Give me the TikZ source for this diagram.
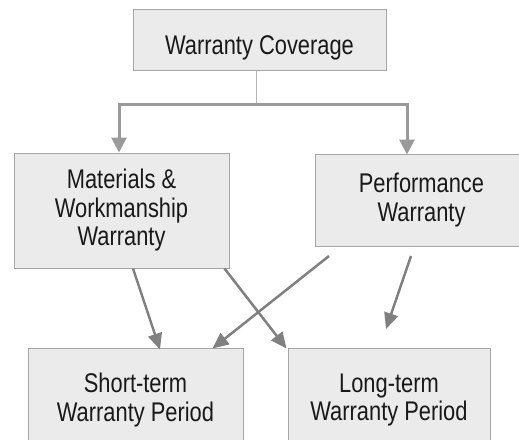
\documentclass[tikz,border=0pt]{standalone}
\usepackage{fontspec}
\usepackage{tikz}
\usetikzlibrary{arrows.meta,calc}
\newfontfamily\boxfont[FakeStretch=0.81]{Liberation Sans}

\definecolor{boxfill}{HTML}{EBEBEB}
\definecolor{boxline}{HTML}{A6A6A6}
\definecolor{teeline}{HTML}{9A9A9A}
\definecolor{arrline}{HTML}{808080}
\definecolor{stemline}{HTML}{B5B5B5}

\tikzset{
  box/.style={draw=boxline, fill=boxfill, line width=1pt, align=center, inner sep=0pt,
    text=black!90, font=\boxfont\fontsize{27pt}{28.5pt}\selectfont},
  tee/.style={draw=teeline, line width=3pt, -{Triangle[length=15pt, width=15pt]}},
  link/.style={draw=arrline, line width=2.5pt, -{Triangle[length=16pt, width=14pt]}},
}

\begin{document}
\begin{tikzpicture}[x=1pt, y=-1pt]
    % 画布范围
    \useasboundingbox (0,0) rectangle (519,439);
    \clip (0,0) rectangle (519,439);

    % 各个方框
    \node[box, minimum width=253pt, minimum height=61pt, text height=29pt, text depth=0pt]
        (cov) at (259.5,39.5) {Warranty Coverage};
    \node[box, minimum width=215pt, minimum height=115pt] (mat) at (121.5,210.5)
        {Materials \&\\Workmanship\\Warranty};
    \node[box, minimum width=213pt, minimum height=92pt] (perf) at (421.5,200)
        {Performance\\Warranty};
    \node[box, minimum width=215pt, minimum height=104pt] (short) at (135.5,400)
        {Short-term\\Warranty Period};
    \node[box, minimum width=202pt, minimum height=104pt] (long) at (389,400)
        {Long-term\\Warranty Period};

    % 分叉处和自由端点
    \coordinate (split) at (256,104);
    \coordinate (perfA) at (329,256);
    \coordinate (perfB) at (411,256);
    \coordinate (longB) at (386,329);

    % 顶部的分叉连线
    \draw[stemline, line width=1pt] (cov.south -| split) -- (split);
    \draw[tee] (split) -| ([xshift=-2.5pt]mat.north);
    \draw[tee] (split) -| ([xshift=-14.5pt, yshift=-1pt]perf.north);

    % 交叉的箭头
    \draw[link] ([xshift=11.5pt]mat.south) -- ([xshift=24.5pt, yshift=-2pt]short.north);
    \draw[link] ([xshift=-5pt]mat.south east) -- ([xshift=-1pt, yshift=-1pt]long.north west);
    \draw[link] (perfA) -- ([xshift=-31pt, yshift=-1pt]short.north east);
    \draw[link] (perfB) -- (longB);
\end{tikzpicture}
\end{document}
